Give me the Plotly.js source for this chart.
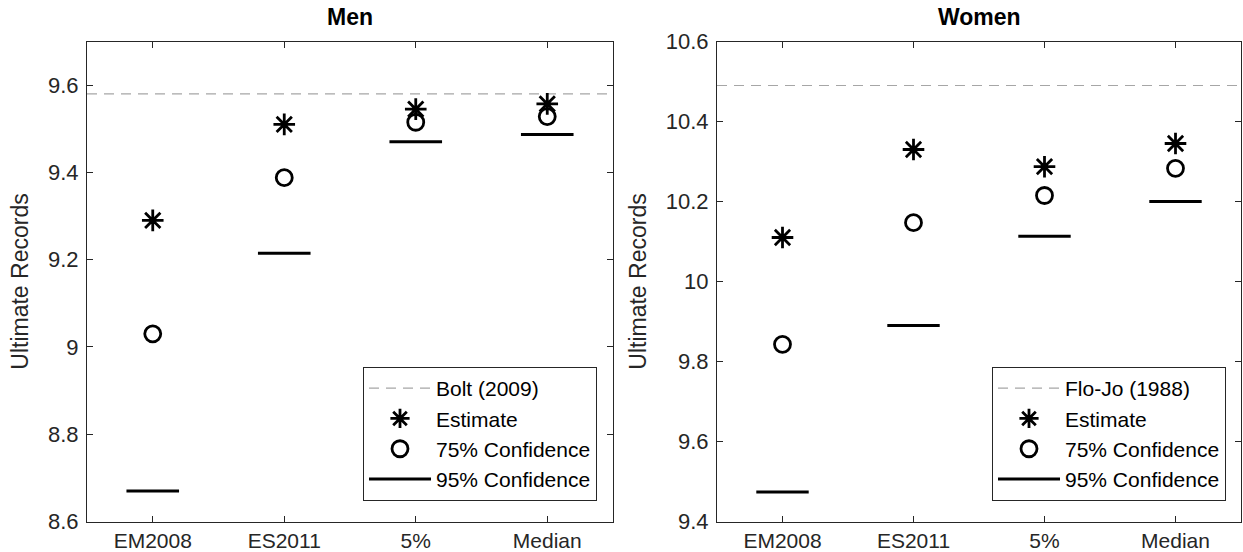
<!DOCTYPE html>
<html>
<head>
<meta charset="utf-8">
<script src="https://cdn.plot.ly/plotly-3.0.1.min.js"></script>
<style>html,body{margin:0;padding:0;background:#fff;}#chart{width:1243px;height:552px;}</style>
</head>
<body>
<div id="chart"></div>
<script>
const categories = ["EM2008", "ES2011", "5%", "Median"];

const menEstimate = [9.29, 9.51, 9.545, 9.557];
const men75 = [9.03, 9.388, 9.515, 9.528];
const men95 = [8.67, 9.215, 9.47, 9.487];
const menRecord = 9.58;
const menRecordLabel = "Bolt (2009)";

const womenEstimate = [10.11, 10.33, 10.287, 10.345];
const women75 = [9.843, 10.147, 10.215, 10.283];
const women95 = [9.474, 9.89, 10.113, 10.2];
const womenRecord = 10.49;
const womenRecordLabel = "Flo-Jo (1988)";

const FONT = "Liberation Sans, Arial, Helvetica, sans-serif";
const TXT = "#262626";
const pos = categories.map((c, i) => i + 1);
const half = 0.2;

function segX() {
  const xs = [];
  pos.forEach(p => { xs.push(p - half, p + half, null); });
  return xs;
}
function segY(vals) {
  const ys = [];
  vals.forEach(v => { ys.push(v, v, null); });
  return ys;
}

function traces(est, c75, c95, rec, recLabel, xa, ya, leg) {
  return [
    {x: [0.5, 4.5], y: [rec, rec], mode: "lines", name: recLabel, xaxis: xa, yaxis: ya, legend: leg,
     line: {color: "#a6a6a6", width: 1.2, dash: "10px,7px"}},
    {x: pos, y: est, mode: "markers", name: "Estimate", xaxis: xa, yaxis: ya, legend: leg,
     marker: {symbol: "asterisk-open", size: 18, color: "#000", line: {color: "#000", width: 2.8}}},
    {x: pos, y: c75, mode: "markers", name: "75% Confidence", xaxis: xa, yaxis: ya, legend: leg,
     marker: {symbol: "circle-open", size: 16, color: "#000", line: {color: "#000", width: 2.8}}},
    {x: segX(), y: segY(c95), mode: "lines", name: "95% Confidence", xaxis: xa, yaxis: ya, legend: leg,
     line: {color: "#000", width: 3}, connectgaps: false}
  ];
}

const data = [].concat(
  traces(menEstimate, men75, men95, menRecord, menRecordLabel, "x", "y", "legend"),
  traces(womenEstimate, women75, women95, womenRecord, womenRecordLabel, "x2", "y2", "legend2")
);

const H = 552, W = 1243;
const yDom = [(H - 521.5) / H, (H - 41.5) / H];

function xaxis(dom, anchor) {
  return {domain: dom, anchor: anchor, range: [0.5, 4.5], tickvals: pos, ticktext: categories,
    showline: true, mirror: "ticks", linecolor: TXT, linewidth: 1, ticks: "inside", ticklen: 6,
    tickcolor: TXT, showgrid: false, zeroline: false, tickfont: {family: FONT, size: 21, color: TXT}};
}
function yaxis(range, anchor) {
  return {domain: yDom, anchor: anchor, range: range, dtick: 0.2, tick0: range[0],
    showline: true, mirror: "ticks", linecolor: TXT, linewidth: 1, ticks: "inside", ticklen: 6,
    tickcolor: TXT, showgrid: false, zeroline: false, tickfont: {family: FONT, size: 22, color: TXT},
    ticklabelstandoff: 3,
    title: {text: "Ultimate Records", font: {family: FONT, size: 23, color: TXT}, standoff: 12}};
}
function legendCfg(xr) {
  return {x: xr / W, xanchor: "right", y: (H - 501) / H, yanchor: "bottom",
    bgcolor: "#fff", bordercolor: TXT, borderwidth: 1, itemwidth: 62,
    font: {family: FONT, size: 21, color: "#000"}, tracegroupgap: 0};
}

const layout = {
  width: W, height: H, margin: {l: 0, r: 0, t: 0, b: 0},
  paper_bgcolor: "#fff", plot_bgcolor: "#fff", showlegend: true,
  xaxis: xaxis([87 / W, 613 / W], "y"),
  yaxis: yaxis([8.6, 9.7], "x"),
  xaxis2: xaxis([717 / W, 1241 / W], "y2"),
  yaxis2: yaxis([9.4, 10.6], "x2"),
  legend: legendCfg(597),
  legend2: legendCfg(1226),
  annotations: [
    {text: "<b>Men</b>", xref: "paper", yref: "paper", x: 350 / W, y: 1 - 17 / H, xanchor: "center", yanchor: "middle",
     showarrow: false, font: {family: FONT, size: 23, color: "#000"}},
    {text: "<b>Women</b>", xref: "paper", yref: "paper", x: 979 / W, y: 1 - 17 / H, xanchor: "center", yanchor: "middle",
     showarrow: false, font: {family: FONT, size: 23, color: "#000"}}
  ]
};

Plotly.newPlot("chart", data, layout, {displayModeBar: false, staticPlot: true});
</script>
</body>
</html>
